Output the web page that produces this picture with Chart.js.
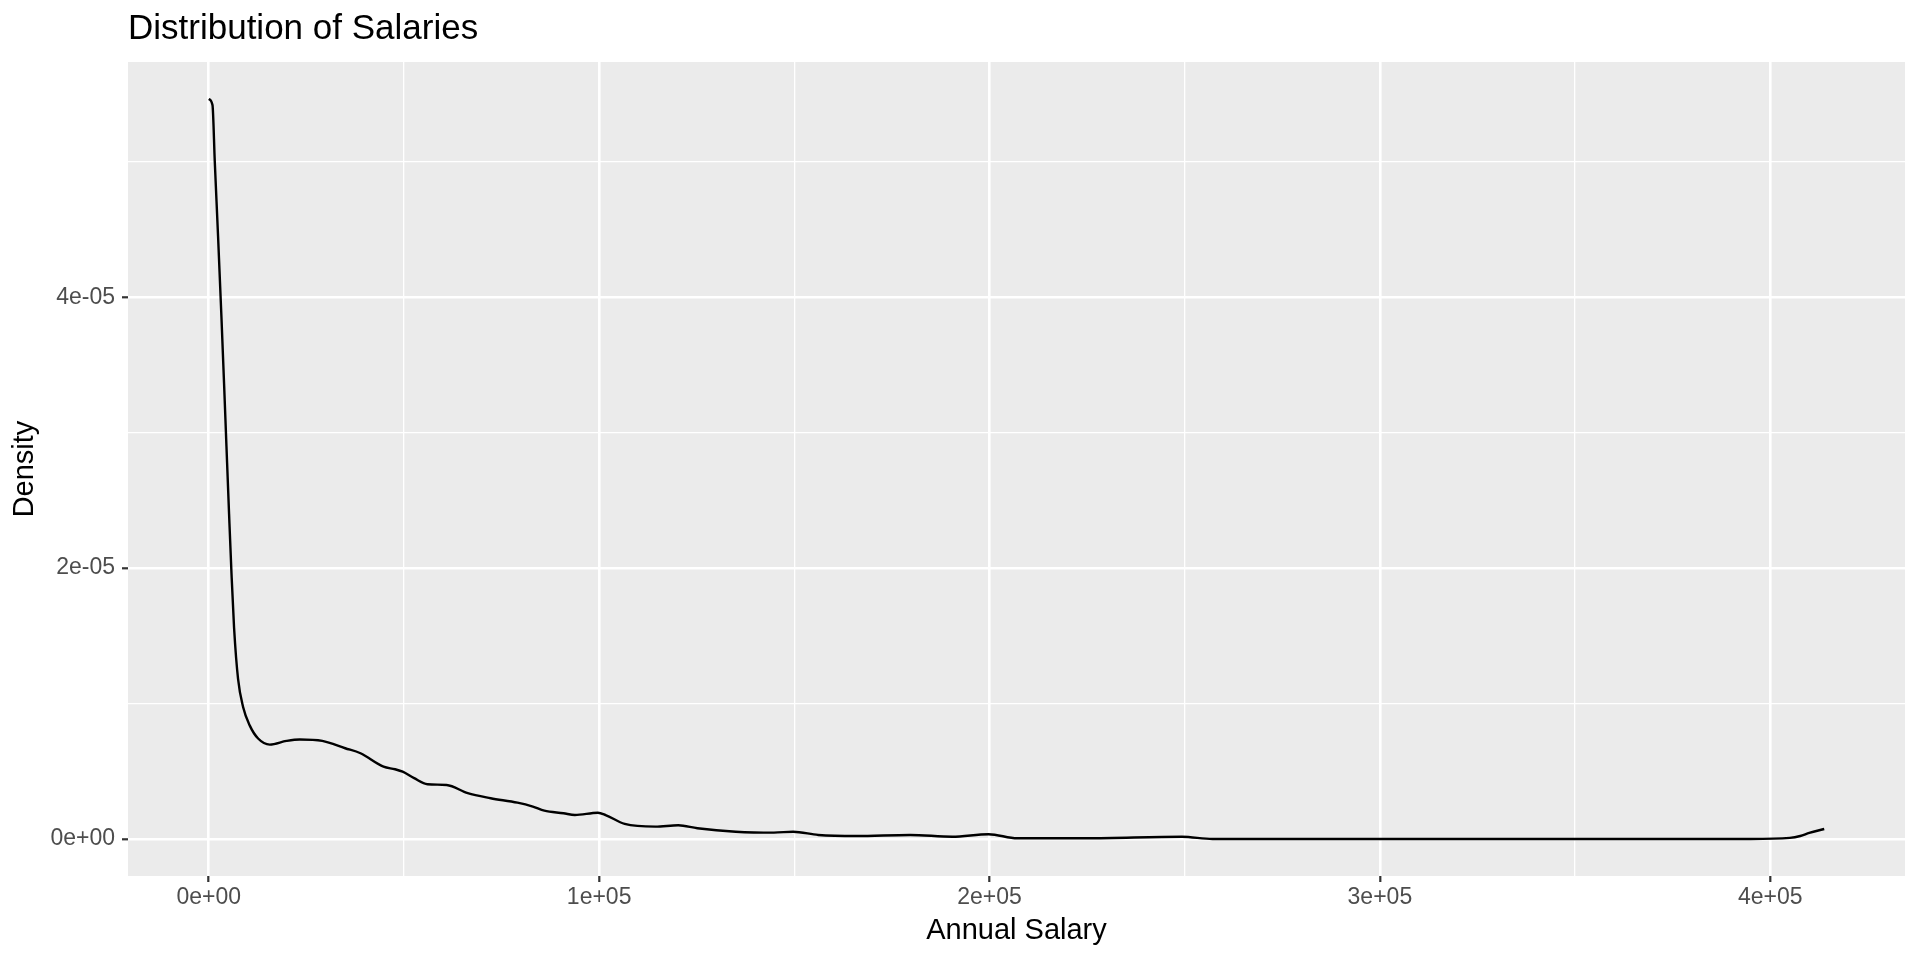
<!DOCTYPE html>
<html>
<head>
<meta charset="utf-8">
<title>Distribution of Salaries</title>
<script src="https://cdn.jsdelivr.net/npm/chart.js@4.4.1/dist/chart.umd.min.js"></script>
<style>
    html, body { margin: 0; padding: 0; background: #ffffff; }
    #chart { display: block; }
</style>
</head>
<body>
<canvas id="chart" width="1920" height="960"></canvas>
<script>
// density curve
const annualSalaries = [
    0, 950, 1540, 2380, 3250, 3920, 4530, 5200, 5820, 6480, 7510, 8790, 10510, 12640,
    15630, 19910, 23320, 29080, 34950, 38870, 44770, 47710, 49660, 52610, 56040, 60940,
    66340, 72210, 79080, 83020, 85950, 90870, 93790, 99680, 101650, 106550, 114390,
    120270, 125180, 134990, 144780, 149700, 156130, 165920, 179650, 190440, 199770,
    207120, 224780, 249280, 257150, 280000, 320000, 360000, 395000, 405000, 407700,
    410000, 413830
];
const salaryDensities = [
    5.463e-5, 5.418e-5, 5.0e-5, 4.45e-5, 3.85e-5, 3.36e-5, 2.90e-5, 2.40e-5, 1.96e-5,
    1.56e-5, 1.18e-5, 0.975e-5, 0.837e-5, 0.742e-5, 0.697e-5, 0.724e-5, 0.735e-5,
    0.724e-5, 0.670e-5, 0.633e-5, 0.534e-5, 0.515e-5, 0.497e-5, 0.449e-5, 0.404e-5,
    0.399e-5, 0.338e-5, 0.301e-5, 0.268e-5, 0.239e-5, 0.209e-5, 0.190e-5, 0.177e-5,
    0.194e-5, 0.177e-5, 0.111e-5, 0.091e-5, 0.101e-5, 0.079e-5, 0.054e-5, 0.047e-5,
    0.054e-5, 0.030e-5, 0.022e-5, 0.030e-5, 0.017e-5, 0.035e-5, 0.005e-5, 0.005e-5,
    0.017e-5, 0, 0, 0, 0, 0, 0.008e-5, 0.022e-5, 0.045e-5, 0.074e-5
];

const xMajorTicks = [0, 100000, 200000, 300000, 400000];
const xTickLabels = ['0e+00', '1e+05', '2e+05', '3e+05', '4e+05'];
const xMinorTicks = [50000, 150000, 250000, 350000];

const yMajorTicks = [0, 2e-5, 4e-5];
const yTickLabels = ['0e+00', '2e-05', '4e-05'];
const yMinorTicks = [1e-5, 3e-5, 5e-5];

const fontFamily = '"Liberation Sans", Arial, Helvetica, sans-serif';

// ggplot-ish expansion: 5% on each side of the data range
const expandRange = (values) => {
    const lo = Math.min(...values);
    const hi = Math.max(...values);
    const pad = (hi - lo) * 0.05;
    return { min: lo - pad, max: hi + pad };
};

const xRange = expandRange(annualSalaries);
const yRange = expandRange(salaryDensities);

const findMajorIndex = (majorTicks, value) => {
    const eps = Math.abs(majorTicks[majorTicks.length - 1]) * 1e-6;
    return majorTicks.findIndex(tick => Math.abs(tick - value) < eps);
};

const buildTicks = (majorTicks, minorTicks) => (scale) => {
    scale.ticks = [...majorTicks, ...minorTicks]
        .sort((a, b) => a - b)
        .map(value => ({ value }));
};

const gridOptions = (majorTicks) => ({
    color: '#ffffff',
    lineWidth: (context) => findMajorIndex(majorTicks, context.tick.value) >= 0 ? 2.6 : 1.3,
    tickColor: (context) => findMajorIndex(majorTicks, context.tick.value) >= 0 ? '#333333' : 'rgba(0,0,0,0)',
    tickWidth: 2.2,
    tickLength: 6,
    drawTicks: true,
});

const panelBackground = {
    id: 'panelBackground',
    beforeDraw: (chart) => {
        const { ctx, chartArea } = chart;
        ctx.save();
        ctx.fillStyle = '#ffffff';
        ctx.fillRect(0, 0, chart.width, chart.height);
        ctx.fillStyle = '#EBEBEB';
        ctx.fillRect(chartArea.left, chartArea.top, chartArea.right - chartArea.left, chartArea.bottom - chartArea.top);
        ctx.restore();
    }
};

const ctx = document.getElementById('chart').getContext('2d');

const salaryChart = new Chart(ctx, {
    type: 'line',
    data: {
        datasets: [{
            label: 'density',
            data: annualSalaries.map((salary, i) => ({ x: salary, y: salaryDensities[i] })),
            borderColor: '#000000',
            borderWidth: 2.4,
            pointRadius: 0,
            fill: false,
            cubicInterpolationMode: 'monotone',
        }]
    },
    options: {
        responsive: false,
        animation: false,
        devicePixelRatio: 1,
        layout: { padding: { left: 0, right: 15, top: 0, bottom: 0 } },
        plugins: {
            legend: { display: false },
            tooltip: { enabled: false },
            title: {
                display: true,
                text: 'Distribution of Salaries',
                align: 'start',
                fullSize: false,
                color: '#000000',
                font: { family: fontFamily, size: 35, weight: 'normal' },
                padding: { top: 8, bottom: 12 },
            },
        },
        scales: {
            x: {
                type: 'linear',
                min: xRange.min,
                max: xRange.max,
                afterBuildTicks: buildTicks(xMajorTicks, xMinorTicks),
                afterFit: (scale) => { scale.height = 84; },
                grid: gridOptions(xMajorTicks),
                border: { display: false },
                ticks: {
                    autoSkip: false,
                    maxRotation: 0,
                    padding: 2,
                    color: '#4D4D4D',
                    font: { family: fontFamily, size: 23 },
                    callback: (value) => {
                        const i = findMajorIndex(xMajorTicks, value);
                        return i >= 0 ? xTickLabels[i] : '';
                    },
                },
                title: {
                    display: true,
                    text: 'Annual Salary',
                    color: '#000000',
                    font: { family: fontFamily, size: 29 },
                    padding: { top: 12, bottom: 12 },
                },
            },
            y: {
                type: 'linear',
                min: yRange.min,
                max: yRange.max,
                afterBuildTicks: buildTicks(yMajorTicks, yMinorTicks),
                afterFit: (scale) => { scale.width = 128; },
                grid: gridOptions(yMajorTicks),
                border: { display: false },
                ticks: {
                    autoSkip: false,
                    padding: 7,
                    color: '#4D4D4D',
                    font: { family: fontFamily, size: 23 },
                    callback: (value) => {
                        const i = findMajorIndex(yMajorTicks, value);
                        return i >= 0 ? yTickLabels[i] : '';
                    },
                },
                title: {
                    display: true,
                    text: 'Density',
                    color: '#000000',
                    font: { family: fontFamily, size: 29 },
                    padding: { top: 8, bottom: 8 },
                },
            },
        },
    },
    plugins: [panelBackground],
});
</script>
</body>
</html>
